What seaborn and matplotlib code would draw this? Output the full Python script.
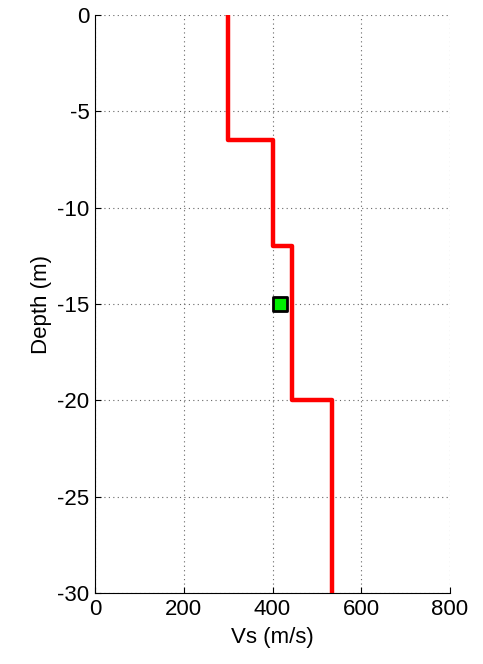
import numpy as np
import pandas as pd
import matplotlib
matplotlib.use("Agg")
import matplotlib.pyplot as plt
import seaborn as sns

# Shear-wave velocity profile: layer velocities and layer boundaries (depth, m)
layer_vs = [300, 400, 445, 535]
layer_top = [0, -6.5, -12, -20]
layer_bottom = [-6.5, -12, -20, -30]

# Single measured point
point_vs = [417]
point_depth = [-15]

x_ticks = [0, 200, 400, 600, 800]
y_ticks = [0, -5, -10, -15, -20, -25, -30]

sns.set_theme(style="white")
plt.rcParams["font.family"] = ["Liberation Sans", "DejaVu Sans"]

# Build the stepped profile from the layer table
vs_pts, d_pts = [], []
for v, t, b in zip(layer_vs, layer_top, layer_bottom):
    vs_pts += [v, v]
    d_pts += [t, b]
profile = pd.DataFrame({"Vs": vs_pts, "Depth": d_pts})
meas = pd.DataFrame({"Vs": point_vs, "Depth": point_depth})

fig = plt.figure(figsize=(4.83, 6.64), dpi=100)
ax = fig.add_axes([95 / 483, 71 / 664, 355 / 483, 578 / 664])

ax.grid(True, linestyle=(0, (1, 3)), color="#666666", linewidth=0.8)
ax.set_axisbelow(True)

sns.lineplot(data=profile, x="Vs", y="Depth", sort=False, estimator=None,
             color="red", linewidth=3.2, ax=ax, zorder=3)
sns.scatterplot(data=meas, x="Vs", y="Depth", marker="s", s=110,
                color="#00ee00", edgecolor="black", linewidth=2.0, ax=ax, zorder=4)

ax.set_xlim(0, 800)
ax.set_ylim(-30, 0)
ax.set_xticks(x_ticks)
ax.set_yticks(y_ticks)
ax.set_xticklabels([str(v) for v in x_ticks])
ax.set_yticklabels([str(v) for v in y_ticks])
ax.tick_params(direction="in", length=4, width=0.8, colors="black",
               labelsize=16, pad=4, left=True, bottom=True)

for side in ["top", "right"]:
    ax.spines[side].set_visible(False)
for side in ["left", "bottom"]:
    ax.spines[side].set_color("black")
    ax.spines[side].set_linewidth(0.8)

ax.set_xlabel("Vs (m/s)", fontsize=16, labelpad=5, color="black")
ax.set_ylabel("Depth (m)", fontsize=16, labelpad=4, color="black")

fig.savefig("out.png", dpi=100, facecolor="white")
